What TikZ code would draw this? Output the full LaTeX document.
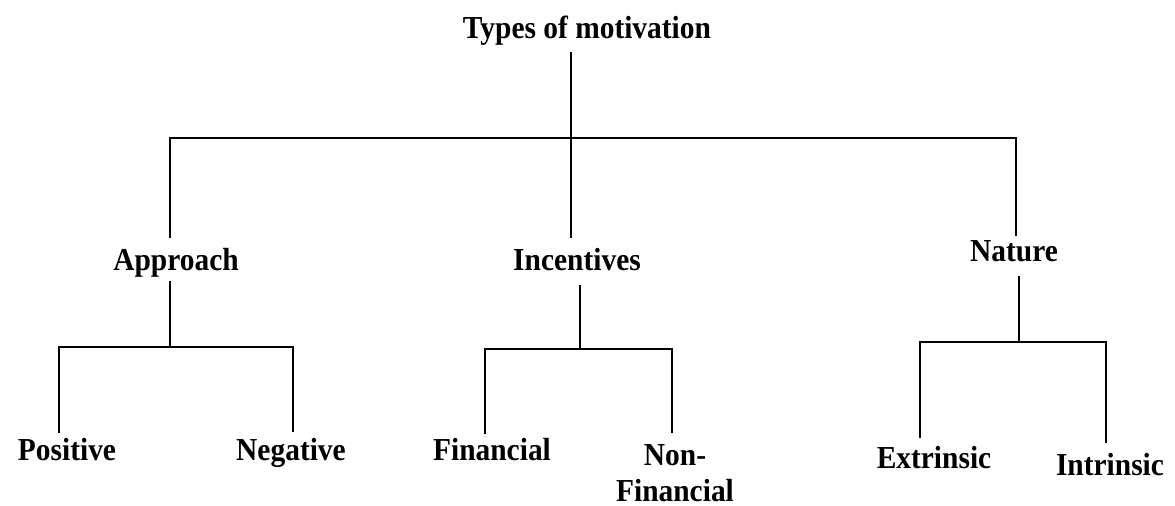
\documentclass[tikz,border=0pt]{standalone}
\usepackage{fontspec}
\setmainfont{Liberation Serif}[FakeStretch=0.92]
\usepackage{tikz}

\begin{document}
\begin{tikzpicture}[
    x=0.75pt, y=-0.75pt,
    label/.style={anchor=base, inner sep=0pt, align=center,
        font=\bfseries\fontsize{24}{27}\selectfont},
    branch/.style={line width=2pt, line cap=rect}
]
\useasboundingbox (0,0) rectangle (1175,506);

% labels
\node[label] (types) at (587,39) {Types of motivation};
\node[label] (approach) at (176,271) {Approach};
\node[label] (incentives) at (577,270) {Incentives};
\node[label] (nature) at (1014,262) {Nature};
\node[label] (positive) at (67,460) {Positive};
\node[label] (negative) at (291,460) {Negative};
\node[label] (financial) at (492,460) {Financial};
\node[label] (nonfin) at (675,501) {Non-\\Financial};
\node[label] (extrinsic) at (934,468) {Extrinsic};
\node[label] (intrinsic) at (1110,475) {Intrinsic};

% junction points
\coordinate (typesOut) at (571,53);
\coordinate (typesBar) at (571,138);
\coordinate (approachIn) at (170,237);
\coordinate (incentivesIn) at (571,237);
\coordinate (natureIn) at (1016,235);
\coordinate (approachOut) at (170,282);
\coordinate (approachBar) at (170,347);
\coordinate (positiveIn) at (59,432);
\coordinate (negativeIn) at (293,431);
\coordinate (incentivesOut) at (580,286);
\coordinate (incentivesBar) at (580,349);
\coordinate (financialIn) at (485,433);
\coordinate (nonfinIn) at (672,432);
\coordinate (natureOut) at (1019,277);
\coordinate (natureBar) at (1019,342);
\coordinate (extrinsicIn) at (920,437);
\coordinate (intrinsicIn) at (1106,442);

% tree
\draw[branch] (typesOut) -- (typesBar);
\draw[branch] (approachIn) -- (approachIn |- typesBar) -- (natureIn |- typesBar) -- (natureIn);
\draw[branch] (typesBar) -- (incentivesIn);

\draw[branch] (approachOut) -- (approachBar);
\draw[branch] (positiveIn) -- (positiveIn |- approachBar) -- (negativeIn |- approachBar) -- (negativeIn);

\draw[branch] (incentivesOut) -- (incentivesBar);
\draw[branch] (financialIn) -- (financialIn |- incentivesBar) -- (nonfinIn |- incentivesBar) -- (nonfinIn);

\draw[branch] (natureOut) -- (natureBar);
\draw[branch] (extrinsicIn) -- (extrinsicIn |- natureBar) -- (intrinsicIn |- natureBar) -- (intrinsicIn);
\end{tikzpicture}
\end{document}
